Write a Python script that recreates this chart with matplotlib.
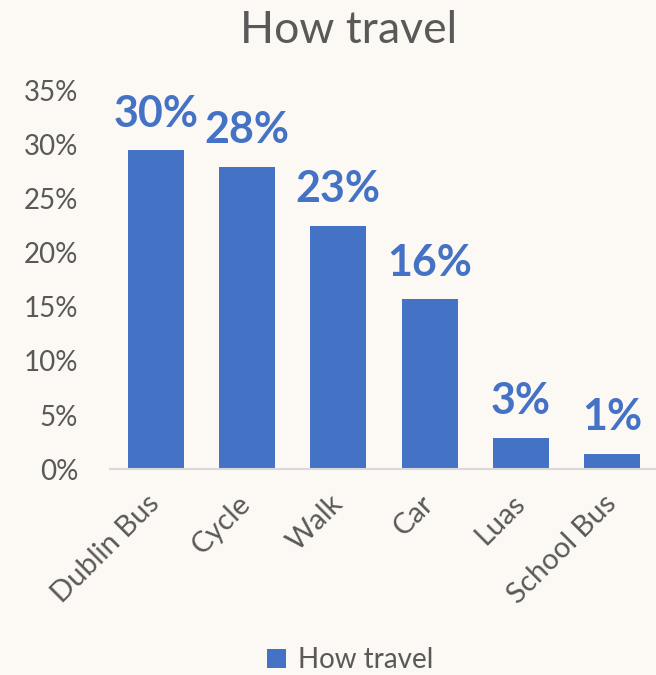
import matplotlib.pyplot as plt
from matplotlib.ticker import PercentFormatter

categories = ['Dublin Bus', 'Cycle', 'Walk', 'Car', 'Luas', 'School Bus']
shares = [0.295, 0.280, 0.225, 0.157, 0.029, 0.014]
labels = ['30%', '28%', '23%', '16%', '3%', '1%']
yticks = [0, 0.05, 0.10, 0.15, 0.20, 0.25, 0.30, 0.35]

bg = '#FCF8F4'
blue = '#4472C4'
grey = '#595959'

plt.rcParams['font.family'] = ['Lato', 'DejaVu Sans']

fig = plt.figure(figsize=(6.56, 6.75), dpi=100, facecolor=bg)
ax = fig.add_axes([110 / 656, 206 / 675, 548 / 656, 378 / 675], facecolor=bg)

x = range(len(categories))
bars = ax.bar(x, shares, width=0.61, color=blue, label='How travel', zorder=2)

for b, lab in zip(bars, labels):
    ax.annotate(lab, (b.get_x() + b.get_width() / 2, b.get_height()),
                xytext=(0, 17), textcoords='offset points',
                ha='center', va='baseline', color=blue,
                fontsize=31, fontweight='bold')

ax.set_xlim(-0.5, len(categories) - 0.5)
ax.set_ylim(0, 0.35)
ax.set_yticks(yticks)
ax.yaxis.set_major_formatter(PercentFormatter(1.0, decimals=0))
ax.tick_params(axis='y', length=0, pad=23, labelsize=20, labelcolor=grey)
ax.tick_params(axis='x', length=0, pad=22, labelsize=21, labelcolor=grey)
ax.set_xticks(list(x))
ax.set_xticklabels(categories, rotation=45, ha='right', va='center',
                   rotation_mode='anchor')

for s in ['top', 'right', 'left']:
    ax.spines[s].set_visible(False)
ax.spines['bottom'].set_color('#D9D9D9')
ax.spines['bottom'].set_linewidth(1.5)

fig.text(349 / 656, 1 - 43 / 675, 'How travel', ha='center', va='baseline',
         fontsize=32, color=grey)

fig.legend(handles=[bars], labels=['How travel'], loc='center',
           bbox_to_anchor=(350 / 656, 1 - 660 / 675), frameon=False,
           fontsize=20, labelcolor=grey, handlelength=0.7, handleheight=0.7,
           handletextpad=0.4)

fig.savefig('out.png', dpi=100, facecolor=bg)
